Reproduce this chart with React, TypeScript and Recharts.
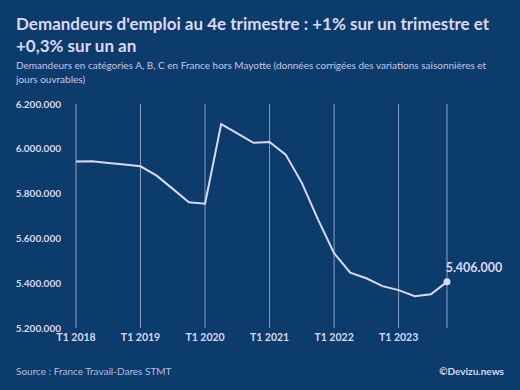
import { CartesianGrid, Line, LineChart, XAxis, YAxis } from "recharts";

const quarters = [
  "T1 2018", "T2 2018", "T3 2018", "T4 2018",
  "T1 2019", "T2 2019", "T3 2019", "T4 2019",
  "T1 2020", "T2 2020", "T3 2020", "T4 2020",
  "T1 2021", "T2 2021", "T3 2021", "T4 2021",
  "T1 2022", "T2 2022", "T3 2022", "T4 2022",
  "T1 2023", "T2 2023", "T3 2023", "T4 2023",
];

const jobSeekers = [
  5943000, 5944000, 5937000, 5930000,
  5922000, 5880000, 5821000, 5761000,
  5755000, 6110000, 6069000, 6027000,
  6030000, 5974000, 5848000, 5685000,
  5534000, 5447000, 5422000, 5387000,
  5369000, 5342000, 5351000, 5406000,
];

const xTicks = ["T1 2018", "T1 2019", "T1 2020", "T1 2021", "T1 2022", "T1 2023"];
const yTicks = [5200000, 5400000, 5600000, 5800000, 6000000, 6200000];

const data = quarters.map((q, i) => ({ q, value: jobSeekers[i] }));

const BG = "#0b3c6b";
const INK = "#ddd8f2";
const FONT = "Lato, 'Open Sans', sans-serif";

const fmt = (v: number) => String(Math.round(v)).replace(/\B(?=(\d{3})+(?!\d))/g, ".");

function EndDot(props: any) {
  const { cx, cy, index } = props;
  if (index !== data.length - 1) return <g key={index} />;
  return (
    <g key={index}>
      <circle cx={cx} cy={cy} r={3.5} fill={INK} />
      <text x={cx + 27} y={cy - 10} textAnchor="middle" fill={INK} fontSize={12.5} fontWeight={700} fontFamily={FONT}>
        {fmt(data[index].value)}
      </text>
    </g>
  );
}

export default function App() {
  return (
    <div style={{ position: "fixed", left: 0, top: 0, width: 520, height: 390, background: BG, fontFamily: FONT, overflow: "hidden" }}>
      <div style={{ position: "absolute", left: 16, top: 13, width: 490, color: INK, fontSize: 17, fontWeight: 700, lineHeight: "22px" }}>
        Demandeurs d'emploi au 4e trimestre : +1% sur un trimestre et +0,3% sur un an
      </div>
      <div style={{ position: "absolute", left: 16, top: 59, width: 490, color: "#c9c6e6", fontSize: 10, lineHeight: "13.5px" }}>
        Demandeurs en catégories A, B, C en France hors Mayotte (données corrigées des variations saisonnières et jours ouvrables)
      </div>
      <LineChart
        width={520}
        height={390}
        data={data}
        margin={{ top: 104, right: 73, bottom: 38, left: 16 }}
        style={{ position: "absolute", left: 0, top: 0 }}
      >
        <CartesianGrid horizontal={false} stroke="#8fa0c4" strokeWidth={1} />
        <XAxis
          dataKey="q"
          ticks={xTicks}
          interval={0}
          axisLine={false}
          tickLine={false}
          tickMargin={0}
          height={24}
          tick={{ fill: INK, fontSize: 10.5, fontWeight: 700, fontFamily: FONT }}
        />
        <YAxis
          domain={[5200000, 6200000]}
          ticks={yTicks}
          tickFormatter={fmt}
          axisLine={false}
          tickLine={false}
          tickMargin={9}
          width={60}
          tick={{ fill: INK, fontSize: 10, fontWeight: 700, fontFamily: FONT }}
        />
        <Line
          type="linear"
          dataKey="value"
          stroke={INK}
          strokeWidth={2}
          dot={EndDot}
          activeDot={false}
          isAnimationActive={false}
        />
      </LineChart>
      <div style={{ position: "absolute", left: 16, top: 365, color: "#bdbbdc", fontSize: 10 }}>
        Source : France Travail-Dares STMT
      </div>
      <div style={{ position: "absolute", right: 16, top: 365, color: INK, fontSize: 10, fontWeight: 700 }}>
        ©Devizu.news
      </div>
    </div>
  );
}
